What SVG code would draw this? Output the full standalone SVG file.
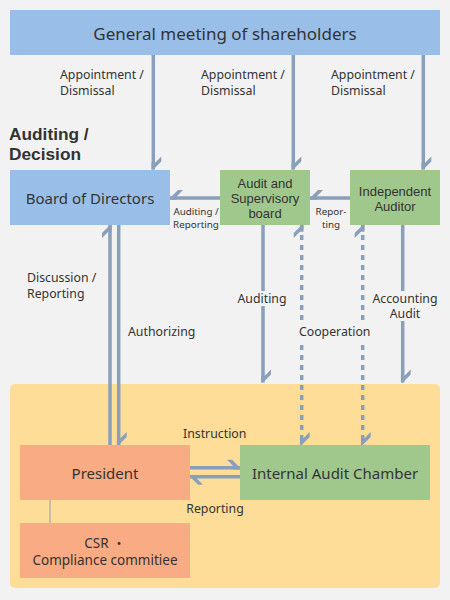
<svg xmlns="http://www.w3.org/2000/svg" xmlns:xlink="http://www.w3.org/1999/xlink" width="450" height="600" viewBox="0 0 450 600">
<style>
  text { font-family: 'Noto Sans', 'Noto Sans CJK JP', sans-serif; fill: #333333; }
  .node { font-size: 15px; text-anchor: middle; }
  .small { font-family: 'Liberation Sans', 'Noto Sans', sans-serif; font-size: 13px; text-anchor: middle; }
  .head { font-family: 'Liberation Sans', 'Noto Sans', sans-serif; font-size: 17.3px; font-weight: bold; }
  .lbl { font-size: 12.3px; }
  .tiny { font-size: 9.8px; text-anchor: middle; }
  .ln { stroke: #8a9fba; stroke-width: 3.5; fill: none; }
  .dash { stroke: #8a9fba; stroke-width: 3.5; fill: none; stroke-dasharray: 5 5; }
  .barb { fill: #8a9fba; }
  .bg { fill: #f2f2f2; }
  .blue { fill: #99bfe8; }
  .green { fill: #a0c88c; }
  .salmon { fill: #f9ab83; }
</style>
<defs>
  <path id="barb" class="barb" d="M-1.75,0 L0,0 L8,-8 L8,-13 L1.75,-6.75 L-1.75,-6.75 Z"/>
</defs>
<rect x="0" y="0" width="450" height="600" fill="#f2f2f2"/>

<g id="internal-area">
  <rect x="10" y="384" width="430" height="204" rx="5" ry="5" fill="#fedd99"/>
</g>

<g id="general-meeting">
  <rect class="blue" x="10" y="10" width="430" height="45"/>
  <text class="node" x="225" y="39.5" style="font-size:17px">General meeting of shareholders</text>
</g>

<text id="heading" class="head"><tspan x="9" y="140">Auditing /</tspan><tspan x="9" y="160">Decision</tspan></text>

<g id="board-of-directors">
  <rect class="blue" x="10" y="170" width="160" height="55"/>
  <text class="node" x="90" y="203.5">Board of Directors</text>
</g>

<g id="audit-supervisory-board">
  <rect class="green" x="220" y="170" width="90" height="55"/>
  <text class="small"><tspan x="265" y="187.5">Audit and</tspan><tspan x="265" y="202.5">Supervisory</tspan><tspan x="265" y="217.5">board</tspan></text>
</g>

<g id="independent-auditor">
  <rect class="green" x="350" y="170" width="90" height="55"/>
  <text class="small"><tspan x="395" y="195.5">Independent</tspan><tspan x="395" y="210.5">Auditor</tspan></text>
</g>

<g id="president">
  <rect class="salmon" x="20" y="445" width="170" height="55"/>
  <text class="node" x="105" y="478.5">President</text>
</g>

<g id="internal-audit-chamber">
  <rect class="green" x="240" y="445" width="190" height="55"/>
  <text class="node" x="335" y="478.5">Internal Audit Chamber</text>
</g>

<g id="csr-compliance">
  <rect class="salmon" x="20" y="523" width="170" height="55"/>
  <text class="node" style="font-size:13.5px"><tspan x="105" y="548">CSR ・</tspan><tspan x="105" y="565">Compliance commitiee</tspan></text>
</g>

<g id="connectors">
  <line class="ln" x1="153.3" y1="55" x2="153.3" y2="169.5"/>
  <use xlink:href="#barb" transform="translate(153.3,169.5)"/>
  <line class="ln" x1="293.3" y1="55" x2="293.3" y2="169.5"/>
  <use xlink:href="#barb" transform="translate(293.3,169.5)"/>
  <line class="ln" x1="423.3" y1="55" x2="423.3" y2="169.5"/>
  <use xlink:href="#barb" transform="translate(423.3,169.5)"/>
  <line class="ln" x1="220" y1="198" x2="170" y2="198"/>
  <use xlink:href="#barb" transform="translate(170,198) rotate(90) scale(-1,1)"/>
  <line class="ln" x1="350" y1="198" x2="310" y2="198"/>
  <use xlink:href="#barb" transform="translate(310,198) rotate(90) scale(-1,1)"/>
  <line class="ln" x1="110" y1="445" x2="110" y2="225"/>
  <use xlink:href="#barb" transform="translate(110,225) rotate(180)"/>
  <line class="ln" x1="118.7" y1="225" x2="118.7" y2="445"/>
  <use xlink:href="#barb" transform="translate(118.7,445)"/>
  <line class="ln" x1="263" y1="225" x2="263" y2="382.5"/>
  <use xlink:href="#barb" transform="translate(263,382.5)"/>
  <line class="ln" x1="402.7" y1="225" x2="402.7" y2="382.5"/>
  <use xlink:href="#barb" transform="translate(402.7,382.5)"/>
  <line class="dash" x1="301.7" y1="225" x2="301.7" y2="445"/>
  <use xlink:href="#barb" transform="translate(301.7,225) rotate(180)"/>
  <use xlink:href="#barb" transform="translate(301.7,445)"/>
  <line class="dash" x1="362.7" y1="225" x2="362.7" y2="445"/>
  <use xlink:href="#barb" transform="translate(362.7,225) rotate(180)"/>
  <use xlink:href="#barb" transform="translate(362.7,445)"/>
  <line class="ln" x1="190" y1="467.7" x2="240" y2="467.7"/>
  <use xlink:href="#barb" transform="translate(240,467.7) rotate(-90)"/>
  <line class="ln" x1="240" y1="476.7" x2="190" y2="476.7"/>
  <use xlink:href="#barb" transform="translate(190,476.7) rotate(90)"/>
  <line x1="50" y1="500" x2="50" y2="523" stroke="#8a9fba" stroke-width="1"/>
</g>

<g id="labels">
  <text class="lbl"><tspan x="60" y="79">Appointment /</tspan><tspan x="60" y="95">Dismissal</tspan></text>
  <text class="lbl"><tspan x="201" y="79">Appointment /</tspan><tspan x="201" y="95">Dismissal</tspan></text>
  <text class="lbl"><tspan x="331" y="79">Appointment /</tspan><tspan x="331" y="95">Dismissal</tspan></text>

  <text class="tiny"><tspan x="196" y="215">Auditing /</tspan><tspan x="196" y="228">Reporting</tspan></text>
  <text class="tiny"><tspan x="331" y="215">Repor-</tspan><tspan x="331" y="227.5">ting</tspan></text>

  <text class="lbl"><tspan x="27" y="282">Discussion /</tspan><tspan x="27" y="298">Reporting</tspan></text>
  <text class="lbl" x="128" y="336">Authorizing</text>

  <rect class="bg" x="237" y="291" width="50" height="15"/>
  <text class="lbl" x="262" y="302.7" text-anchor="middle">Auditing</text>

  <rect class="bg" x="371" y="291" width="68" height="30"/>
  <text class="lbl" text-anchor="middle"><tspan x="405" y="302.7">Accounting</tspan><tspan x="405" y="318.3">Audit</tspan></text>

  <rect class="bg" x="298" y="324" width="73" height="16"/>
  <text class="lbl" x="334.7" y="336" text-anchor="middle">Cooperation</text>

  <text class="lbl" x="214.7" y="438.3" text-anchor="middle">Instruction</text>
  <text class="lbl" x="215" y="513.3" text-anchor="middle">Reporting</text>
</g>
</svg>
